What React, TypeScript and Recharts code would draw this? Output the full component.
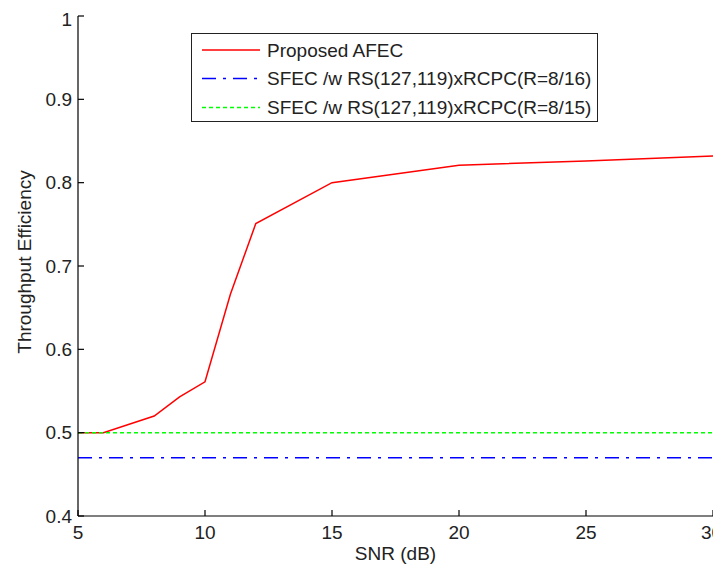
import React from 'react';
import { LineChart, Line, XAxis, YAxis, Legend } from 'recharts';

const snrAfec = [5, 6, 8, 9, 10, 11, 12, 15, 20, 25, 30];
const afecValues = [0.5, 0.5, 0.52, 0.543, 0.561, 0.666, 0.751, 0.8, 0.821, 0.826, 0.832];
const snrRef = [5, 30];
const sfec16Values = [0.47, 0.47];
const sfec15Values = [0.5, 0.5];
const xTicks = [5, 10, 15, 20, 25, 30];
const yTicks = [0.4, 0.5, 0.6, 0.7, 0.8, 0.9, 1];
const seriesNames = ['Proposed AFEC', 'SFEC /w RS(127,119)xRCPC(R=8/16)', 'SFEC /w RS(127,119)xRCPC(R=8/15)'];
const xLabel = 'SNR (dB)';
const yLabel = 'Throughput Efficiency';

const afecData = snrAfec.map((x, i) => ({ x, y: afecValues[i] }));
const sfec16Data = snrRef.map((x, i) => ({ x, y: sfec16Values[i] }));
const sfec15Data = snrRef.map((x, i) => ({ x, y: sfec15Values[i] }));

const FONT = '"Liberation Sans", Arial, Helvetica, sans-serif';
const FS = 19;
const TXT = '#222';

const RED = '#ff0000';
const BLUE = '#0000ff';
const GREEN = '#00ff00';
const BLUE_DASH = '14 7 3 7';
const GREEN_DASH = '4 3';

const EmptyTick = () => <g />;

const fmt = (v: number) => String(+v.toFixed(1));

const LegendBox = () => {
  const w = 407;
  const h = 89;
  const rows = [
    { name: seriesNames[0], color: RED, dash: undefined as string | undefined },
    { name: seriesNames[1], color: BLUE, dash: BLUE_DASH },
    { name: seriesNames[2], color: GREEN, dash: GREEN_DASH },
  ];
  const ys = [17, 45.5, 74.5];
  return (
    <svg width={w} height={h} style={{ display: 'block' }}>
      <rect x={0.5} y={0.5} width={w - 1} height={h - 1} fill="#fff" stroke="#222" strokeWidth={1} />
      {rows.map((r, i) => (
        <g key={r.name}>
          <line x1={11} x2={69} y1={ys[i]} y2={ys[i]} stroke={r.color} strokeWidth={1.5} strokeDasharray={r.dash} />
          <text x={76} y={ys[i]} dominantBaseline="central" fontFamily={FONT} fontSize={FS} fill={TXT}>
            {r.name}
          </text>
        </g>
      ))}
    </svg>
  );
};

const YLabelContent = (props: any) => {
  const vb = props.viewBox || {};
  const cy = (vb.y ?? 0) + (vb.height ?? 0) / 2 - 4;
  const cx = 16;
  return (
    <text
      x={cx}
      y={cy}
      transform={`rotate(-90, ${cx}, ${cy})`}
      textAnchor="middle"
      dominantBaseline="central"
      fontFamily={FONT}
      fontSize={FS}
      fill={TXT}
    >
      {yLabel}
    </text>
  );
};

const XLabelContent = (props: any) => {
  const vb = props.viewBox || {};
  const cx = (vb.x ?? 0) + (vb.width ?? 0) / 2;
  const cy = 545;
  return (
    <text x={cx} y={cy} textAnchor="middle" dominantBaseline="central" fontFamily={FONT} fontSize={FS} fill={TXT}>
      {xLabel}
    </text>
  );
};

export default function App() {
  const tickStyle = { fontFamily: FONT, fontSize: FS, fill: TXT };
  return (
    <div style={{ background: '#fff', width: 713, height: 562 }}>
      <LineChart width={713} height={562} margin={{ top: 8, right: 8, bottom: 0, left: 0 }}>
        <XAxis
          xAxisId="b"
          dataKey="x"
          type="number"
          domain={[5, 30]}
          ticks={xTicks}
          allowDataOverflow
          height={54}
          tickSize={-6}
          tickMargin={16}
          tick={tickStyle}
          stroke="#000"
          axisLine={{ stroke: '#000', strokeWidth: 1.2 }}
          tickLine={{ stroke: '#000', strokeWidth: 1.2 }}
          label={<XLabelContent />}
        />
        <XAxis
          xAxisId="t"
          dataKey="x"
          type="number"
          orientation="top"
          domain={[5, 30]}
          ticks={xTicks}
          allowDataOverflow
          height={0}
          tickSize={-6}
          tick={EmptyTick}
          axisLine={{ stroke: '#000', strokeWidth: 1.2 }}
          tickLine={{ stroke: '#000', strokeWidth: 1.2 }}
        />
        <YAxis
          yAxisId="l"
          type="number"
          domain={[0.4, 1]}
          ticks={yTicks}
          allowDataOverflow
          width={70}
          tickSize={-6}
          tickMargin={12}
          tickFormatter={fmt}
          tick={tickStyle}
          axisLine={{ stroke: '#000', strokeWidth: 1.2 }}
          tickLine={{ stroke: '#000', strokeWidth: 1.2 }}
          label={<YLabelContent />}
        />
        <YAxis
          yAxisId="r"
          type="number"
          orientation="right"
          domain={[0.4, 1]}
          ticks={yTicks}
          allowDataOverflow
          width={0}
          tickSize={-6}
          tick={EmptyTick}
          axisLine={{ stroke: '#000', strokeWidth: 1.2 }}
          tickLine={{ stroke: '#000', strokeWidth: 1.2 }}
        />
        <Legend
          layout="vertical"
          align="center"
          verticalAlign="middle"
          content={<LegendBox />}
          wrapperStyle={{ position: 'absolute', left: 183, top: 25, width: 407, height: 89 }}
        />
        <Line
          xAxisId="b"
          yAxisId="l"
          data={afecData}
          dataKey="y"
          name={seriesNames[0]}
          stroke={RED}
          strokeWidth={1.5}
          dot={false}
          activeDot={false}
          type="linear"
          isAnimationActive={false}
        />
        <Line
          xAxisId="b"
          yAxisId="l"
          data={sfec16Data}
          dataKey="y"
          name={seriesNames[1]}
          stroke={BLUE}
          strokeWidth={1.5}
          strokeDasharray={BLUE_DASH}
          dot={false}
          activeDot={false}
          type="linear"
          isAnimationActive={false}
        />
        <Line
          xAxisId="b"
          yAxisId="l"
          data={sfec15Data}
          dataKey="y"
          name={seriesNames[2]}
          stroke={GREEN}
          strokeWidth={1.5}
          strokeDasharray={GREEN_DASH}
          dot={false}
          activeDot={false}
          type="linear"
          isAnimationActive={false}
        />
      </LineChart>
    </div>
  );
}
